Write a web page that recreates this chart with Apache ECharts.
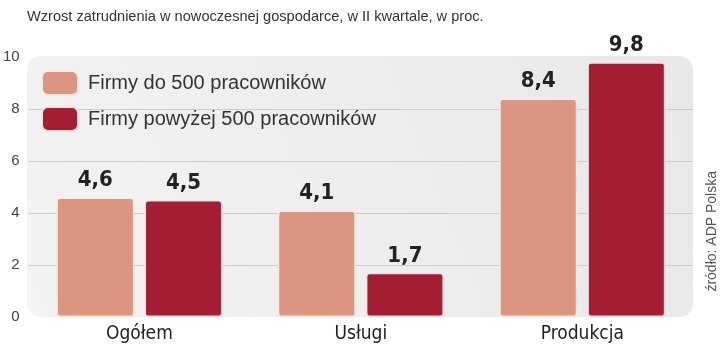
<!DOCTYPE html>
<html><head><meta charset="utf-8">
<script src="https://cdn.jsdelivr.net/npm/echarts@6/dist/echarts.min.js"></script>
<style>html,body{margin:0;padding:0;background:#fff}#c{width:720px;height:345px}</style>
</head><body><div id="c"></div>
<script>
const categories = ['Ogółem', 'Usługi', 'Produkcja'];
const seriesNames = ['Firmy do 500 pracowników', 'Firmy powyżej 500 pracowników'];
const smallFirms = [4.6, 4.1, 8.4];
const largeFirms = [4.5, 1.7, 9.8];
const yTicks = [0, 2, 4, 6, 8, 10];
const titleText = 'Wzrost zatrudnienia w nowoczesnej gospodarce, w II kwartale, w proc.';
const sourceText = 'źródło: ADP Polska';

const chart = echarts.init(document.getElementById('c'), null, {renderer: 'canvas'});
const G = {left: 27, right: 27, top: 57, bottom: 28};
const labelStyle = {
  show: true, position: 'top', distance: 6,
  fontFamily: 'DejaVu Sans Condensed, DejaVu Sans', fontWeight: 'bold', fontSize: 22,
  color: '#222', formatter: p => String(p.value).replace('.', ',')
};
chart.setOption({
  animation: false,
  title: {
    text: titleText, left: 22, top: 4,
    textStyle: {fontFamily: 'Liberation Sans', fontWeight: 'normal', fontSize: 14.6, color: '#333'}
  },
  graphic: [
    {type: 'rect', left: G.left, top: G.top - 1, z: -10, silent: true,
     shape: {width: 720 - G.left - G.right, height: 345 - G.top - G.bottom + 1, r: 14},
     style: {fill: new echarts.graphic.LinearGradient(1, 0, 0, 1, [{offset: 0, color: '#e8e8e8'}, {offset: 1, color: '#f3f3f3'}])}},
    {type: 'text', left: 705, top: 171, rotation: Math.PI / 2, silent: true,
     style: {text: sourceText, fontFamily: 'Liberation Sans', fontSize: 14, fill: '#555'}}
  ],
  legend: {
    orient: 'vertical', left: 36, top: 65, itemWidth: 36, itemHeight: 24, itemGap: 10,
    icon: 'roundRect',
    textStyle: {fontFamily: 'Liberation Sans', fontSize: 20, color: '#333', padding: [0, 0, 0, 5]},
    data: seriesNames
  },
  grid: {left: G.left, right: G.right, top: G.top, bottom: G.bottom, containLabel: false},
  xAxis: {
    type: 'category', data: categories,
    axisLine: {show: false}, axisTick: {show: false},
    axisLabel: {fontFamily: 'DejaVu Sans Condensed, DejaVu Sans', fontSize: 19, color: '#222', margin: 8}
  },
  yAxis: {
    type: 'value', min: yTicks[0], max: yTicks[yTicks.length - 1], interval: 2,
    axisLine: {show: false}, axisTick: {show: false},
    axisLabel: {fontFamily: 'Liberation Sans', fontSize: 15, color: '#444', margin: 9},
    splitLine: {lineStyle: {color: ['transparent', '#cbcbcb', '#cbcbcb', '#cbcbcb', '#cbcbcb', 'transparent'], width: 1}}
  },
  series: [
    {name: seriesNames[0], type: 'bar', data: smallFirms, barCategoryGap: '25%', barGap: '13%',
     itemStyle: {color: '#DB9581', borderColor: '#f7e8e2', borderWidth: 1.5, borderRadius: 3},
     label: labelStyle},
    {name: seriesNames[1], type: 'bar', data: largeFirms,
     itemStyle: {color: '#A31D33', borderColor: '#f3e1e1', borderWidth: 1.5, borderRadius: 3},
     label: labelStyle}
  ]
});
</script></body></html>
